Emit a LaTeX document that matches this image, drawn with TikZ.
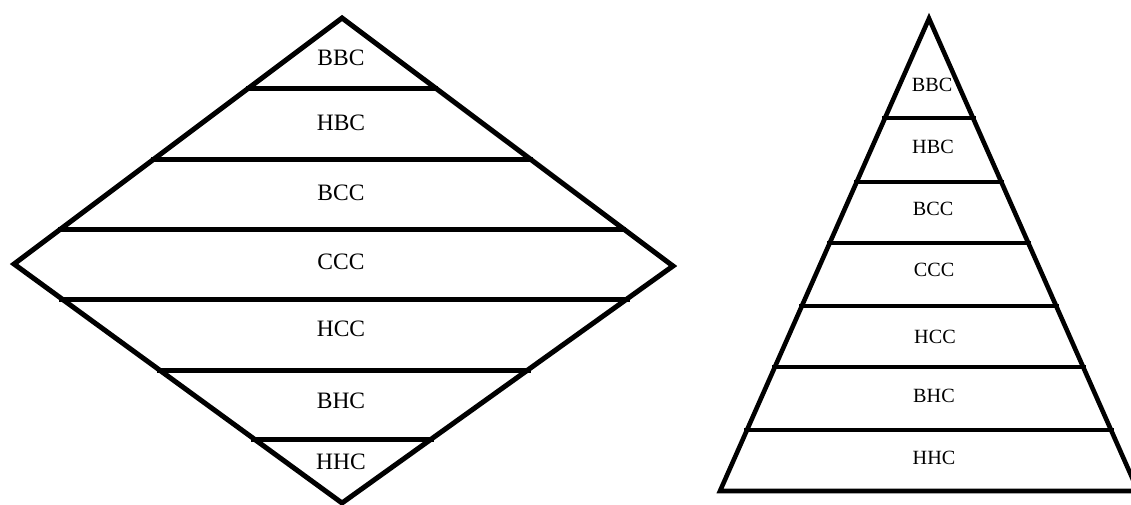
\documentclass[tikz,border=0pt]{standalone}
\usepackage{fontspec}
\setmainfont{Liberation Serif}
\begin{document}
\begin{tikzpicture}[x=1pt,y=-1pt,
  outline/.style={line width=5pt,line join=miter,black},
  band/.style={line width=5pt,black},
  toutline/.style={line width=4.6pt,line join=miter,black},
  tband/.style={line width=4.6pt,black},
  dlabel/.style={inner sep=0pt,font=\fontsize{23.5}{27}\selectfont},
  tlabel/.style={inner sep=0pt,font=\fontsize{20.2}{24}\selectfont}]
\useasboundingbox (0,0) rectangle (1131,504);
\clip (0,0) rectangle (1131,504);
% diamond
\coordinate (T) at (342,18);
\coordinate (L) at (14,264);
\coordinate (R) at (673,266);
\coordinate (B) at (342,503);
\draw[band] (246,88) -- (438,88);
\draw[band] (151,159) -- (533,159);
\draw[band] (58,229) -- (626,229);
\draw[band] (59,299) -- (630,299);
\draw[band] (157,370) -- (531,370);
\draw[band] (251,439) -- (434,439);
\draw[outline] (T) -- (R) -- (B) -- (L) -- cycle;
\node[dlabel] (d1) at (341,58) {BBC};
\node[dlabel] (d2) at (341,123) {HBC};
\node[dlabel] (d3) at (341,193) {BCC};
\node[dlabel] (d4) at (341,262) {CCC};
\node[dlabel] (d5) at (341,329) {HCC};
\node[dlabel] (d6) at (341,401) {BHC};
\node[dlabel] (d7) at (341,462) {HHC};
% triangle
\coordinate (A) at (929,18.5);
\coordinate (BL) at (720,491);
\coordinate (BR) at (1138,491);
\draw[tband] (882,118) -- (976,118);
\draw[tband] (854,182) -- (1004,182);
\draw[tband] (827,243) -- (1031,243);
\draw[tband] (799,306) -- (1059,306);
\draw[tband] (772,367) -- (1086,367);
\draw[tband] (744,430) -- (1114,430);
\draw[toutline] (A) -- (BR) -- (BL) -- cycle;
\node[tlabel] (t1) at (932,85) {BBC};
\node[tlabel] (t2) at (933,147) {HBC};
\node[tlabel] (t3) at (933,209) {BCC};
\node[tlabel] (t4) at (934,270) {CCC};
\node[tlabel] (t5) at (935,337) {HCC};
\node[tlabel] (t6) at (934,396) {BHC};
\node[tlabel] (t7) at (934,458) {HHC};
\end{tikzpicture}
\end{document}
